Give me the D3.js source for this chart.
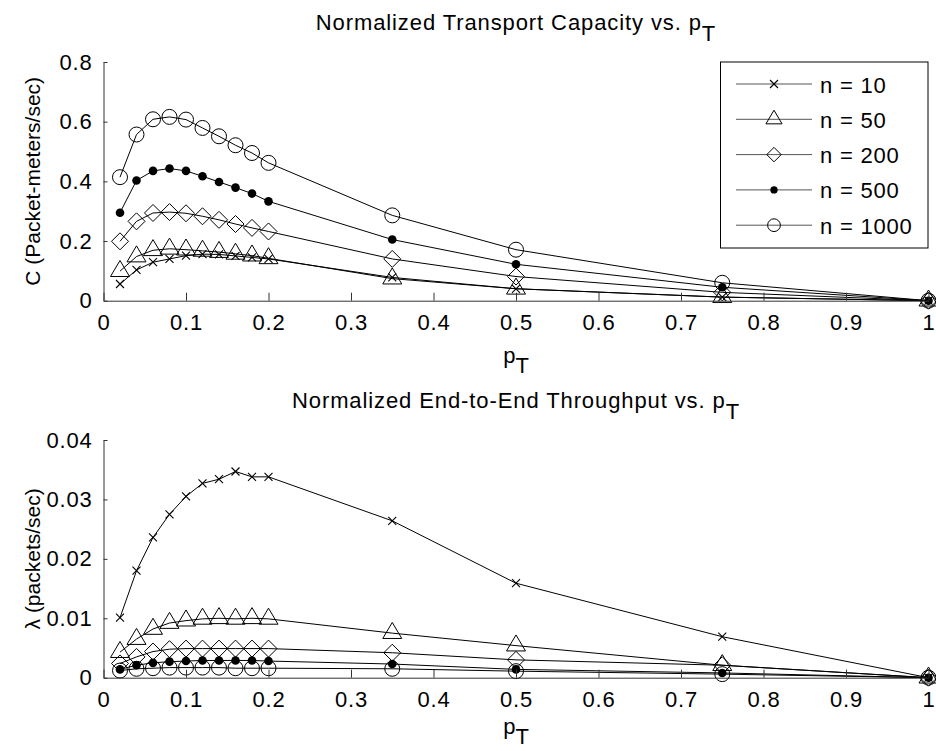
<!DOCTYPE html>
<html>
<head>
<meta charset="utf-8">
<script src="https://cdn.jsdelivr.net/npm/d3@7"></script>
<style>
  body { margin: 0; background: #fff; }
  svg { display: block; font-family: "Liberation Sans", Arial, sans-serif; }
  .line { fill: none; stroke: #000; stroke-width: 1; }
  .spine { stroke: #333; stroke-width: 1; fill: none; }
</style>
</head>
<body>
<div id="chart"></div>
<script>
// p_T values shared by every series
var pT = [0.02, 0.04, 0.06, 0.08, 0.10, 0.12, 0.14, 0.16, 0.18, 0.20, 0.35, 0.5, 0.75, 1.0];

var seriesNames = ["n = 10", "n = 50", "n = 200", "n = 500", "n = 1000"];
var seriesMarkers = ["x", "triangle", "diamond", "dot", "circle"];

// top panel: normalized transport capacity
var cap10   = [0.056, 0.103, 0.129, 0.140, 0.151, 0.156, 0.155, 0.150, 0.145, 0.140, 0.078, 0.040, 0.012, 0];
var cap50   = [0.099, 0.148, 0.169, 0.174, 0.171, 0.167, 0.163, 0.157, 0.151, 0.142, 0.074, 0.040, 0.012, 0];
var cap200  = [0.199, 0.266, 0.294, 0.297, 0.293, 0.283, 0.271, 0.257, 0.244, 0.232, 0.140, 0.081, 0.028, 0];
var cap500  = [0.295, 0.403, 0.435, 0.443, 0.435, 0.417, 0.398, 0.379, 0.359, 0.333, 0.205, 0.122, 0.045, 0];
var cap1000 = [0.414, 0.557, 0.608, 0.616, 0.607, 0.579, 0.551, 0.521, 0.495, 0.462, 0.286, 0.171, 0.060, 0];

// bottom panel: end-to-end throughput
var thr10   = [0.0101, 0.0180, 0.0236, 0.0275, 0.0305, 0.0327, 0.0334, 0.0347, 0.0338, 0.0338, 0.0264, 0.0159, 0.0069, 0];
var thr50   = [0.0043, 0.0065, 0.0082, 0.0092, 0.0096, 0.0099, 0.0100, 0.0099, 0.0100, 0.0099, 0.0075, 0.0054, 0.0021, 0];
var thr200  = [0.0024, 0.0035, 0.0044, 0.0048, 0.0049, 0.0049, 0.0049, 0.0049, 0.0049, 0.0049, 0.0042, 0.0030, 0.0021, 0];
var thr500  = [0.0014, 0.0021, 0.0025, 0.0027, 0.0028, 0.0029, 0.0029, 0.0029, 0.0029, 0.0028, 0.0023, 0.0014, 0.0008, 0];
var thr1000 = [0.0012, 0.0015, 0.0016, 0.0017, 0.0017, 0.0017, 0.0017, 0.0016, 0.0016, 0.0016, 0.0015, 0.0011, 0.0006, 0];

var xTicks = [0, 0.1, 0.2, 0.3, 0.4, 0.5, 0.6, 0.7, 0.8, 0.9, 1];
var capTicks = [0, 0.2, 0.4, 0.6, 0.8];
var thrTicks = [0, 0.01, 0.02, 0.03, 0.04];

var W = 936, H = 751;
var svg = d3.select("#chart").append("svg")
    .attr("width", W)
    .attr("height", H);

var x = d3.scaleLinear().domain([0, 1]).range([103.5, 928.5]);

// draw one marker shape at (0,0)
function drawMarker(g, type, s) {
    s = s || 1;
    if (type == "x") {
        g.append("path").attr("d", "M-4,-4L4,4M-4,4L4,-4")
            .attr("stroke", "#000").attr("stroke-width", 1.1).attr("fill", "none");
    } else if (type == "triangle") {
        var w = 9.5 * s, h = 16 * s;
        g.append("path").attr("d", "M0," + (-2 * h / 3) + "L" + w + "," + (h / 3) + "L" + (-w) + "," + (h / 3) + "Z")
            .attr("stroke", "#000").attr("fill", "none");
    } else if (type == "diamond") {
        var d = 8.5 * s;
        g.append("path").attr("d", "M0," + (-d) + "L" + d + ",0L0," + d + "L" + (-d) + ",0Z")
            .attr("stroke", "#000").attr("fill", "none");
    } else if (type == "dot") {
        g.append("circle").attr("r", 4.3 * s).attr("fill", "#000");
    } else if (type == "circle") {
        g.append("circle").attr("r", 7.5 * s).attr("stroke", "#000").attr("fill", "none");
    }
}

function panel(opts) {
    var y = d3.scaleLinear().domain(opts.domain).range([opts.bottom, opts.top]);
    var g = svg.append("g");

    // series lines and markers
    opts.series.forEach(function(vals, i) {
        var pts = pT.map(function(p, j) { return [p, vals[j]]; });
        g.append("path")
            .attr("class", "line")
            .attr("d", d3.line().x(function(d) { return x(d[0]); }).y(function(d) { return y(d[1]); })(pts));
        pts.forEach(function(d) {
            var m = g.append("g").attr("transform", "translate(" + x(d[0]) + "," + y(d[1]) + ")");
            drawMarker(m, seriesMarkers[i]);
        });
    });

    // axes (MATLAB style, ticks inside)
    var xa = g.append("g").attr("transform", "translate(0," + opts.bottom + ")")
        .call(d3.axisBottom(x).tickValues(xTicks).tickSizeInner(-8).tickSizeOuter(0).tickPadding(14)
            .tickFormat(function(d) { return d == 0 || d == 1 ? d3.format("d")(d) : d3.format(".1f")(d); }));
    var ya = g.append("g").attr("transform", "translate(" + x(0) + ",0)")
        .call(d3.axisLeft(y).tickValues(opts.ticks).tickSizeInner(-4).tickSizeOuter(0).tickPadding(11)
            .tickFormat(function(d) { return d == 0 ? "0" : d3.format(opts.fmt)(d); }));
    [xa, ya].forEach(function(a) {
        a.select(".domain").attr("class", "spine");
        a.selectAll(".tick line").attr("stroke", "#333");
        a.selectAll("text").style("font-size", "22px").style("letter-spacing", "0.8px").attr("fill", "#000");
    });
    xa.selectAll("text").attr("dy", "0.71em");

    // title
    var t = svg.append("text")
        .attr("x", 516).attr("y", opts.top - 32)
        .attr("text-anchor", "middle")
        .style("font-size", "22px")
        .style("letter-spacing", "0.9px");
    t.append("tspan").text(opts.title);
    t.append("tspan").attr("dy", 11).text("T");

    // x label
    var xl = svg.append("text")
        .attr("x", 516).attr("y", opts.bottom + opts.xlabOff)
        .attr("text-anchor", "middle")
        .style("font-size", "22px");
    xl.append("tspan").text("p");
    xl.append("tspan").attr("dy", 10).text("T");

    // y label
    svg.append("text")
        .attr("transform", "translate(40," + ((opts.top + opts.bottom) / 2) + ") rotate(-90)")
        .attr("text-anchor", "middle")
        .style("font-size", "21px")
        .text(opts.ylabel);
}

panel({
    top: 62, bottom: 300.7, domain: [0, 0.8], ticks: capTicks, fmt: ".1f", xlabOff: 62,
    series: [cap10, cap50, cap200, cap500, cap1000],
    title: "Normalized Transport Capacity vs. p",
    ylabel: "C (Packet-meters/sec)"
});

panel({
    top: 440, bottom: 677.7, domain: [0, 0.04], ticks: thrTicks, fmt: ".2f", xlabOff: 56,
    series: [thr10, thr50, thr200, thr500, thr1000],
    title: "Normalized End-to-End Throughput vs. p",
    ylabel: "\u03bb (packets/sec)"
});

// legend in the top panel
var leg = svg.append("g");
leg.append("rect")
    .attr("x", 720.5).attr("y", 62)
    .attr("width", 207.5).attr("height", 186)
    .attr("fill", "#fff").attr("stroke", "#000");
seriesNames.forEach(function(name, i) {
    var cy = 84 + i * 35.3;
    leg.append("line").attr("x1", 736).attr("x2", 812).attr("y1", cy).attr("y2", cy)
        .attr("stroke", "#555").attr("stroke-width", 1);
    var m = leg.append("g").attr("transform", "translate(774," + cy + ")");
    drawMarker(m, seriesMarkers[i], 0.85);
    leg.append("text").attr("x", 820).attr("y", cy + 8.5)
        .style("font-size", "22px")
        .style("letter-spacing", "0.8px")
        .text(name);
});
</script>
</body>
</html>
